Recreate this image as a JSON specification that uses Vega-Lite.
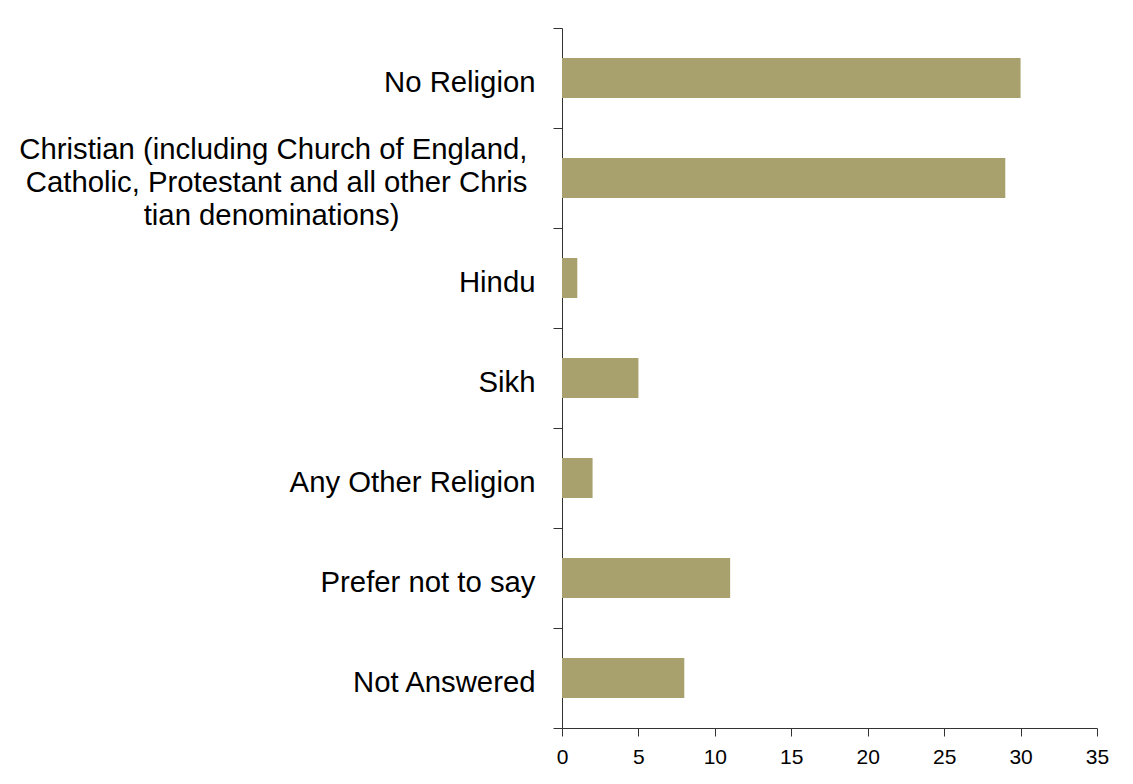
{
  "$schema": "https://vega.github.io/schema/vega-lite/v6.json",
  "autosize": "none",
  "width": 535,
  "height": 700,
  "padding": {"left": 562, "top": 28, "right": 36, "bottom": 56},
  "background": "white",
  "config": {
    "view": {"stroke": null},
    "font": "Liberation Sans"
  },
  "data": {
    "values": [
      {"religion": "No Religion", "count": 30},
      {"religion": "Christian (including Church of England, Catholic, Protestant and all other Christian denominations)", "count": 29},
      {"religion": "Hindu", "count": 1},
      {"religion": "Sikh", "count": 5},
      {"religion": "Any Other Religion", "count": 2},
      {"religion": "Prefer not to say", "count": 11},
      {"religion": "Not Answered", "count": 8}
    ]
  },
  "mark": {"type": "bar", "color": "#A8A16E", "size": 40},
  "encoding": {
    "y": {
      "field": "religion",
      "type": "nominal",
      "sort": null,
      "scale": {"paddingInner": 0, "paddingOuter": 0},
      "axis": {
        "title": null,
        "domainColor": "#333333",
        "tickColor": "#333333",
        "tickSize": 9,
        "tickBand": "extent",
        "labelPadding": 18,
        "labelFontSize": 29.3,
        "labelColor": "#000000",
        "labelLimit": 600,
        "labelLineHeight": 33,
        "labelOffset": -29,
        "labelExpr": "indexof(datum.label, 'Christian') == 0 ? ['Christian (including Church of England,\u00a0\u200b', 'Catholic, Protestant and all other Chris\u00a0\u200b', 'tian denominations)\u00a0\u00a0\u00a0\u00a0\u00a0\u00a0\u00a0\u00a0\u00a0\u00a0\u00a0\u00a0\u00a0\u00a0\u00a0\u00a0\u2009\u200b'] : ['', datum.label]"
      }
    },
    "x": {
      "field": "count",
      "type": "quantitative",
      "scale": {"domain": [0, 35], "nice": false},
      "axis": {
        "title": null,
        "values": [0, 5, 10, 15, 20, 25, 30, 35],
        "grid": false,
        "domainColor": "#333333",
        "tickColor": "#333333",
        "tickSize": 8,
        "labelPadding": 10,
        "labelFontSize": 21,
        "labelColor": "#000000",
        "labelFlush": false
      }
    }
  }
}
